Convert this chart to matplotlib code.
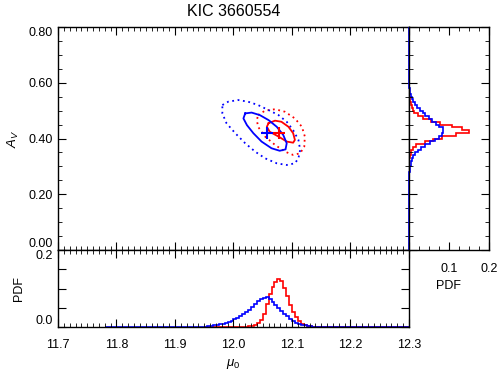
"""--- KIC 3660554: mu_0 - A_V contours with marginal PDFs ---"""
import numpy as np
import matplotlib
matplotlib.use('Agg')
import matplotlib.pyplot as plt
from matplotlib.ticker import MultipleLocator, FuncFormatter

plt.rcParams['font.family'] = ['Liberation Sans', 'DejaVu Sans']
plt.rcParams['mathtext.fontset'] = 'custom'
plt.rcParams['mathtext.it'] = 'Liberation Sans:italic'
plt.rcParams['mathtext.rm'] = 'Liberation Sans'

RED = '#ff0000'
BLUE = '#0000ff'
FS = 9

# contour vertices (mu_0, A_V)
blue_inner_mu = [12.020, 12.031, 12.045, 12.060, 12.074, 12.085, 12.091, 12.089, 12.079, 12.065, 12.048, 12.034, 12.023, 12.017, 12.020]
blue_inner_av = [0.490, 0.493, 0.484, 0.466, 0.442, 0.413, 0.383, 0.361, 0.356, 0.365, 0.389, 0.419, 0.448, 0.472, 0.490]
blue_outer_mu = [11.981, 11.991, 12.008, 12.025, 12.042, 12.060, 12.077, 12.091, 12.102, 12.111, 12.114, 12.111, 12.105, 12.091, 12.074, 12.054, 12.037, 12.020, 12.003, 11.988, 11.981, 11.981]
blue_outer_av = [0.520, 0.532, 0.538, 0.532, 0.520, 0.502, 0.484, 0.460, 0.430, 0.395, 0.359, 0.329, 0.311, 0.305, 0.311, 0.329, 0.353, 0.383, 0.419, 0.455, 0.490, 0.520]
red_inner_mu = [12.060, 12.071, 12.082, 12.094, 12.102, 12.105, 12.102, 12.091, 12.077, 12.062, 12.057, 12.060]
red_inner_av = [0.455, 0.464, 0.460, 0.442, 0.419, 0.395, 0.385, 0.389, 0.407, 0.424, 0.442, 0.455]
red_outer_mu = [12.042, 12.054, 12.071, 12.088, 12.105, 12.117, 12.122, 12.121, 12.114, 12.102, 12.088, 12.071, 12.054, 12.042, 12.040, 12.042]
red_outer_av = [0.484, 0.500, 0.505, 0.496, 0.472, 0.442, 0.407, 0.371, 0.347, 0.341, 0.353, 0.377, 0.407, 0.442, 0.466, 0.484]

# best-fit crosses
best_mu = [12.078, 12.058]
best_av = [0.419, 0.419]

# PDF of mu_0 (bin width 0.005)
mu_bin = 0.005
mu_lo, mu_hi = 11.78, 12.30
blue_mu_start = 11.950
blue_mu_pdf = [0.001, 0.002, 0.003, 0.004, 0.005, 0.007, 0.009, 0.011, 0.013, 0.016,
               0.020, 0.024, 0.028, 0.033, 0.038, 0.044, 0.052, 0.060, 0.067, 0.072,
               0.076, 0.077, 0.073, 0.066, 0.058, 0.050, 0.042, 0.035, 0.028, 0.021,
               0.015, 0.011, 0.008, 0.005, 0.004, 0.002, 0.002, 0.001, 0.001]
red_mu_start = 12.020
red_mu_pdf = [0.001, 0.002, 0.003, 0.005, 0.010, 0.018, 0.035, 0.060, 0.085, 0.105,
              0.118, 0.124, 0.120, 0.102, 0.080, 0.058, 0.040, 0.026, 0.016, 0.009,
              0.005, 0.003, 0.002, 0.001]

# PDF of A_V (bin width 0.01)
av_bin = 0.01
av_lo, av_hi = 0.0, 0.80
blue_av_start = 0.26
blue_av_pdf = [0.000, 0.001, 0.002, 0.003, 0.004, 0.006, 0.008, 0.011, 0.016, 0.022,
               0.030, 0.039, 0.052, 0.064, 0.076, 0.083, 0.086, 0.084, 0.076, 0.068,
               0.058, 0.050, 0.041, 0.034, 0.027, 0.021, 0.015, 0.011, 0.008, 0.005,
               0.003, 0.002, 0.001]
red_av_start = 0.30
red_av_pdf = [0.000, 0.001, 0.001, 0.002, 0.004, 0.006, 0.010, 0.018, 0.040, 0.060,
              0.082, 0.118, 0.150, 0.132, 0.108, 0.078, 0.055, 0.034, 0.022, 0.013,
              0.010, 0.007, 0.005, 0.003, 0.002, 0.001, 0.001]


def padded(vals, start, lo, hi, width):
    """全範囲のビンにゼロを埋めて返す"""
    n = int(round((hi - lo) / width))
    edges = lo + width * np.arange(n + 1)
    full = np.zeros(n)
    i0 = int(round((start - lo) / width))
    full[i0:i0 + len(vals)] = vals
    return edges, full


def style(ax):
    ax.tick_params(which='both', direction='in', top=True, right=True,
                   labelsize=FS, colors='black', pad=4)
    ax.tick_params(which='major', length=6)
    ax.tick_params(which='minor', length=3)
    for s in ax.spines.values():
        s.set_linewidth(1.0)


def end_label(ax, text, y, va):
    """端のラベルは軸の内側に寄せて描く"""
    ax.annotate(text, xy=(0, y), xycoords=ax.get_yaxis_transform(),
                xytext=(-4, 0), textcoords='offset points',
                ha='right', va=va, fontsize=FS)


fig = plt.figure(figsize=(4.99, 3.75), dpi=100)
ax_main = fig.add_axes([0.1162, 0.3333, 0.7034, 0.5947])
ax_bot = fig.add_axes([0.1162, 0.128, 0.7034, 0.2053])
ax_rt = fig.add_axes([0.8196, 0.3333, 0.1603, 0.5947])

"""--- main panel ---"""
ax_main.plot(red_outer_mu, red_outer_av, color=RED, lw=1.3, ls=(0, (1, 2)))
ax_main.plot(blue_outer_mu, blue_outer_av, color=BLUE, lw=1.3, ls=(0, (1, 2)))
ax_main.plot(red_inner_mu, red_inner_av, color=RED, lw=1.3)
ax_main.plot(blue_inner_mu, blue_inner_av, color=BLUE, lw=1.3)
ax_main.plot(best_mu[0], best_av[0], '+', color=RED, ms=9, mew=1.5)
ax_main.plot(best_mu[1], best_av[1], '+', color=BLUE, ms=9, mew=1.5)
ax_main.set_xlim(11.7, 12.3)
ax_main.set_ylim(0.0, 0.8)
ax_main.xaxis.set_major_locator(MultipleLocator(0.1))
ax_main.xaxis.set_minor_locator(MultipleLocator(0.01))
ax_main.yaxis.set_major_locator(MultipleLocator(0.2))
ax_main.yaxis.set_minor_locator(MultipleLocator(0.05))
ax_main.yaxis.set_major_formatter(
    FuncFormatter(lambda v, p: '' if v < 0.01 or v > 0.79 else '%.2f' % v))
style(ax_main)
ax_main.tick_params(labelbottom=False)
end_label(ax_main, '0.80', 0.8, 'top')
end_label(ax_main, '0.00', 0.0, 'bottom')
ax_main.set_ylabel('$A_V$', fontsize=9.5, labelpad=5)
ax_main.set_title('KIC 3660554', fontsize=11.5, pad=8)

"""--- bottom panel: PDF of mu_0 ---"""
e, r = padded(red_mu_pdf, red_mu_start, 11.95, mu_hi, mu_bin)
ax_bot.stairs(r, e, color=RED, lw=1.2, baseline=None)
e, b = padded(blue_mu_pdf, blue_mu_start, mu_lo, mu_hi, mu_bin)
ax_bot.stairs(b, e, color=BLUE, lw=1.2, baseline=None)
ax_bot.set_xlim(11.7, 12.3)
ax_bot.set_ylim(0.0, 0.2)
ax_bot.xaxis.set_major_locator(MultipleLocator(0.1))
ax_bot.xaxis.set_minor_locator(MultipleLocator(0.01))
ax_bot.yaxis.set_major_locator(MultipleLocator(0.05))
ax_bot.yaxis.set_major_formatter(FuncFormatter(lambda v, p: ''))
ax_bot.xaxis.set_major_formatter(FuncFormatter(lambda v, p: '%.1f' % v))
style(ax_bot)
ax_bot.tick_params(axis='x', pad=9)
end_label(ax_bot, '0.2', 0.2, 'top')
end_label(ax_bot, '0.0', 0.0, 'bottom')
ax_bot.set_xlabel(r'$\mu_0$', fontsize=9.5, labelpad=4)
ax_bot.set_ylabel('PDF', fontsize=FS, labelpad=20)

"""--- right panel: PDF of A_V ---"""
e, r = padded(red_av_pdf, red_av_start, 0.30, 0.57, av_bin)
ax_rt.stairs(r, e, color=RED, lw=1.2, baseline=None, orientation='horizontal')
e, b = padded(blue_av_pdf, blue_av_start, av_lo, av_hi, av_bin)
ax_rt.stairs(b, e, color=BLUE, lw=1.2, baseline=None, orientation='horizontal', clip_on=False)
ax_rt.set_xlim(0.0, 0.2)
ax_rt.set_ylim(0.0, 0.8)
ax_rt.xaxis.set_major_locator(MultipleLocator(0.1))
ax_rt.xaxis.set_minor_locator(MultipleLocator(0.025))
ax_rt.yaxis.set_major_locator(MultipleLocator(0.2))
ax_rt.yaxis.set_minor_locator(MultipleLocator(0.05))
ax_rt.xaxis.set_major_formatter(FuncFormatter(lambda v, p: '' if v < 0.05 else '%.1f' % v))
style(ax_rt)
ax_rt.tick_params(labelleft=False)
ax_rt.tick_params(axis='x', pad=9)
ax_rt.set_xlabel('PDF', fontsize=FS, labelpad=4)

fig.savefig('out.png', dpi=100)
plt.close()
